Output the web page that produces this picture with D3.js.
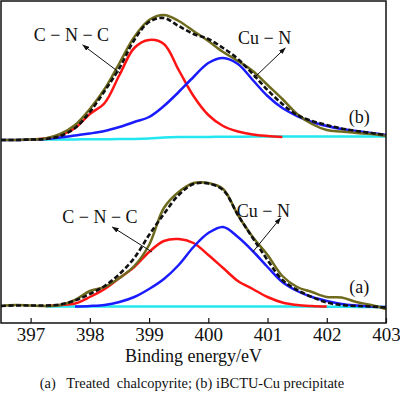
<!DOCTYPE html>
<html>
<head>
<meta charset="utf-8">
<script src="https://cdn.jsdelivr.net/npm/d3@7"></script>
<style>
  html, body { margin: 0; padding: 0; background: #fff; }
  svg { display: block; }
  text { font-family: "Liberation Serif", "Times New Roman", serif; fill: #111; }
</style>
</head>
<body>
<svg id="chart" width="400" height="398"></svg>
<script>
// ---------------- DATA ----------------
// Binding energy grid (eV)
const energies = [396.5,396.75,397,397.25,397.5,397.75,398,398.25,398.5,398.75,399,399.25,399.5,399.75,400,400.25,400.5,400.75,401,401.25,401.5,401.75,402,402.25,402.5,402.75,403];
const xTicks = [397,398,399,400,401,402,403];

// Panel (a) Treated chalcopyrite – intensities (a.u.), null = not drawn
const rawA   = [17,18,17.5,17,18,23,32,36,45,57,78,115,131,140,140,134,108,86,68,47,36,31,26,25.5,21,18,14];
const fitA   = [17,17.5,17.5,17.5,18.5,22.5,29,37,49,65,88,109,128,139,139.5,133,108,85,63,43,33,26,20.5,18,17,16.5,15.5];
const cncA   = [null,null,null,17,18,19.5,26,34,45,56,71,82,84,80,68,55,42,34,26,20.5,18,17,16.5,null,null,null,null];
const cunA   = [null,null,null,null,null,16.5,17,18,21,26,34,44,58,76,90,96,86,72,56,41,32,26,22,19,17.5,16.5,16];
const bgA    = [null,null,null,16.5,16.5,16.5,16.5,16.5,16.5,16.5,16.5,16.5,16.5,16.5,16.5,16.5,16.5,16.5,16.5,16.5,16.5,16.5,16.3,16.2,16.1,16,16];

// Panel (b) iBCTU-Cu precipitate – intensities (a.u.), before stacking offset
const rawB   = [17,17,17.5,18.5,23,32,48,68,94,120,137,142,136,126,116,105,96,86,72,58,43,33,27,25.5,24,23,21];
const fitB   = [17,17,17.5,18,21,29,45,66,89,117,135,139,131,123,118,109,98,83,67,53,42,36,32,28.5,26,24,22];
const cncB   = [null,null,17.5,18.5,22,29,43,54,82,109,117,113,87,61,42,31,25.5,22.5,21,20,null,null,null,null,null,null,null];
const cunB   = [17,17,17.5,18,19.5,21.5,23.5,26,30,35,40,51,65,80,94,99,93,77,61,49,41,35,31,28,26,24,22];
const bgB    = [null,null,17.5,17.5,17.5,17.6,17.7,17.8,17.9,18.1,18.6,19.5,19.9,20,20.1,20.2,20.3,20.4,20.4,20.5,20.5,20.5,20.5,20.5,20.5,20.5,20.5];

const panelOffsets = { a: 0, b: 166 };
const panelLabels = ["(a)", "(b)"];
const xTitle = "Binding energy/eV";
const caption = "(a)\u00A0\u00A0 Treated\u00A0 chalcopyrite; (b) iBCTU-Cu precipitate";

(function () {
// ---------------- LAYOUT ----------------
const svg = d3.select("#chart");
const pL = 1, pR = 386, pT = 1, pB = 323;
const x = d3.scaleLinear().domain([396.5, 403]).range([pL, pR]);
const y = d3.scaleLinear().domain([0, 322]).range([pB, pT]);
const serif = '"Liberation Serif", "Times New Roman", serif';

const colors = { raw: "#6e6a1e", fit: "#111", cnc: "#ff1414", cun: "#1b1bff", bg: "#22e6f0" };

function drawSeries(vals, offset, color, dashed) {
  const pts = energies.map((e, i) => [e, vals[i]]);
  const line = d3.line()
    .defined(d => d[1] != null)
    .x(d => x(d[0]))
    .y(d => y(d[1] + offset))
    .curve(d3.curveCatmullRom.alpha(0.5));
  svg.append("path")
    .attr("d", line(pts))
    .attr("fill", "none")
    .attr("stroke", color)
    .attr("stroke-width", dashed ? 2.6 : 2.5)
    .attr("stroke-linejoin", "round")
    .attr("stroke-dasharray", dashed ? "5,2.5" : null);
}

[[bgA, cncA, cunA, rawA, fitA, panelOffsets.a], [bgB, cncB, cunB, rawB, fitB, panelOffsets.b]].forEach(p => {
  const off = p[5];
  drawSeries(p[0], off, colors.bg, false);
  drawSeries(p[1], off, colors.cnc, false);
  drawSeries(p[2], off, colors.cun, false);
  drawSeries(p[3], off, colors.raw, false);
  drawSeries(p[4], off, colors.fit, true);
});

// Frame
svg.append("rect")
  .attr("x", pL).attr("y", pT)
  .attr("width", pR - pL).attr("height", pB - pT)
  .attr("fill", "none").attr("stroke", "#111").attr("stroke-width", 1.5);

// X axis: inward ticks
const xAxis = d3.axisBottom(x).tickValues(xTicks).tickSize(-5).tickPadding(0).tickFormat(d3.format("d"));
const gx = svg.append("g").attr("transform", `translate(0,${pB})`).call(xAxis);
gx.select(".domain").remove();
gx.selectAll(".tick line").attr("stroke", "#111").attr("stroke-width", 1.2);
gx.selectAll(".tick text")
  .attr("y", 18).attr("dy", 0)
  .style("font-size", "19px")
  .style("font-family", serif)
  .attr("fill", "#111");

svg.append("text")
  .attr("x", (pL + pR) / 2).attr("y", 362)
  .attr("text-anchor", "middle")
  .style("font-family", serif)
  .style("font-size", "18px")
  .text(xTitle);

svg.append("text")
  .attr("x", 192).attr("y", 388)
  .attr("text-anchor", "middle")
  .style("font-family", serif)
  .style("font-size", "14.4px")
  .style("white-space", "pre")
  .text(caption);

// Annotations
const defs = svg.append("defs");
defs.append("marker")
  .attr("id", "arrow").attr("viewBox", "0 0 10 10")
  .attr("refX", 9).attr("refY", 5)
  .attr("markerWidth", 7).attr("markerHeight", 7)
  .attr("orient", "auto-start-reverse")
  .append("path").attr("d", "M0,1.5 L10,5 L0,8.5 Z").attr("fill", "#111");

function annot(label, tx, ty, x1, y1, x2, y2, off) {
  svg.append("text")
    .attr("x", x(tx)).attr("y", y(ty + off))
    .attr("text-anchor", "middle")
    .style("font-family", serif)
    .style("font-size", "18px")
    .text(label);
  svg.append("line")
    .attr("x1", x(x1)).attr("y1", y(y1 + off))
    .attr("x2", x(x2)).attr("y2", y(y2 + off))
    .attr("stroke", "#111").attr("stroke-width", 1)
    .attr("marker-end", "url(#arrow)");
}
// panel (b)
annot("C \u2212 N \u2212 C", 397.69, 116, 398.51, 84, 397.88, 112, panelOffsets.b);
annot("Cu \u2212 N", 400.95, 113, 400.77, 79, 401.3, 109, panelOffsets.b);
// panel (a)
annot("C \u2212 N \u2212 C", 398.17, 100, 399.05, 71, 398.38, 96, panelOffsets.a);
annot("Cu \u2212 N", 400.93, 106, 400.75, 71, 401.22, 105, panelOffsets.a);

// panel labels
svg.append("text").attr("x", x(402.55)).attr("y", y(34 + panelOffsets.b))
  .attr("text-anchor", "middle").style("font-family", serif).style("font-size", "18px").text(panelLabels[1]);
svg.append("text").attr("x", x(402.55)).attr("y", y(30 + panelOffsets.a))
  .attr("text-anchor", "middle").style("font-family", serif).style("font-size", "18px").text(panelLabels[0]);
})();
</script>
</body>
</html>
